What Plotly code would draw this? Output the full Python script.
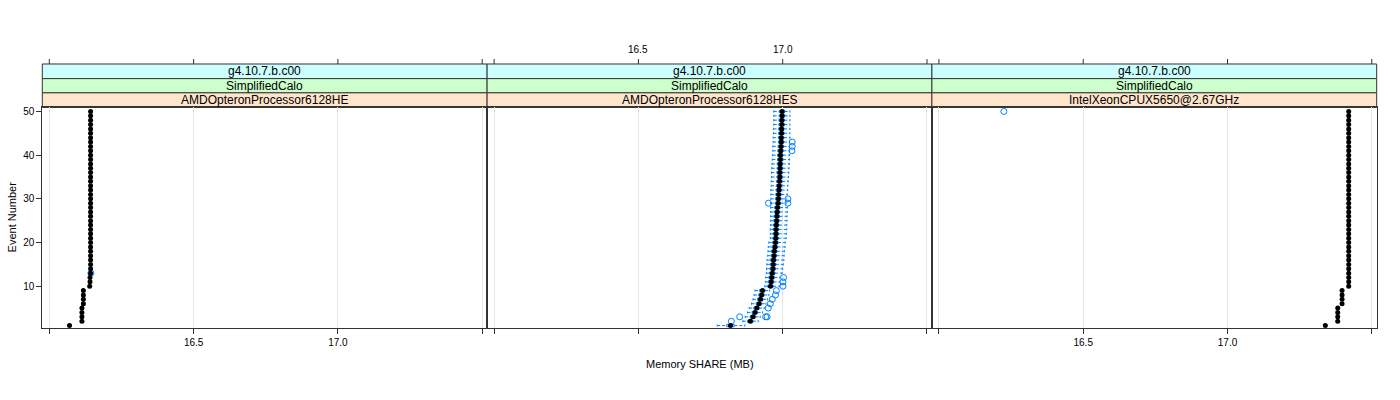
import plotly.graph_objects as go

# ---------------- data ----------------
events = list(range(1, 51))
panel_names = ["AMDOpteronProcessor6128HE", "AMDOpteronProcessor6128HES", "IntelXeonCPUX5650@2.67GHz"]
strip_top = "g4.10.7.b.c00"
strip_mid = "SimplifiedCalo"
x_tickvals = [16.0, 16.5, 17.0, 17.5]
x_ticktext = ["", "16.5", "17.0", ""]
y_tickvals = [10, 20, 30, 40, 50]
x_title = "Memory SHARE (MB)"
y_title = "Event Number"

# panel 1 : AMDOpteronProcessor6128HE (medians)
med_he = [16.070, 16.113, 16.113, 16.113, 16.113, 16.118, 16.118, 16.118, 16.118, 16.140,
          16.141, 16.141, 16.143, 16.143, 16.143, 16.143, 16.143, 16.143, 16.143, 16.143,
          16.143, 16.143, 16.143, 16.143, 16.143, 16.143, 16.143, 16.143, 16.143, 16.143,
          16.143, 16.143, 16.143, 16.143, 16.143, 16.143, 16.143, 16.143, 16.143, 16.143,
          16.143, 16.143, 16.143, 16.143, 16.143, 16.143, 16.143, 16.143, 16.143, 16.143]
out_he_ev = [13]
out_he_val = [16.144]

# panel 2 : AMDOpteronProcessor6128HES (box-and-whisker summaries)
med_hes = [16.819, 16.888, 16.897, 16.904, 16.910, 16.918, 16.923, 16.927, 16.930, 16.958,
           16.960, 16.962, 16.964, 16.966, 16.967, 16.968, 16.970, 16.971, 16.973, 16.975,
           16.976, 16.977, 16.977, 16.978, 16.979, 16.980, 16.981, 16.982, 16.984, 16.985,
           16.986, 16.987, 16.988, 16.989, 16.990, 16.990, 16.991, 16.991, 16.992, 16.992,
           16.993, 16.994, 16.995, 16.995, 16.996, 16.996, 16.997, 16.997, 16.998, 16.998]
q1_hes = [16.806, 16.878, 16.887, 16.894, 16.900, 16.908, 16.913, 16.917, 16.920, 16.948,
          16.950, 16.952, 16.954, 16.956, 16.957, 16.958, 16.960, 16.961, 16.963, 16.965,
          16.966, 16.967, 16.967, 16.968, 16.969, 16.970, 16.971, 16.972, 16.974, 16.975,
          16.976, 16.977, 16.978, 16.979, 16.980, 16.980, 16.981, 16.981, 16.982, 16.982,
          16.983, 16.984, 16.985, 16.985, 16.986, 16.986, 16.987, 16.987, 16.988, 16.988]
q3_hes = [16.832, 16.897, 16.906, 16.913, 16.919, 16.927, 16.932, 16.936, 16.939, 16.967,
          16.969, 16.971, 16.973, 16.975, 16.976, 16.977, 16.979, 16.980, 16.982, 16.984,
          16.985, 16.986, 16.986, 16.987, 16.988, 16.989, 16.990, 16.991, 16.993, 16.994,
          16.995, 16.996, 16.997, 16.998, 16.999, 16.999, 17.000, 17.000, 17.001, 17.001,
          17.002, 17.003, 17.004, 17.004, 17.005, 17.005, 17.006, 17.006, 17.007, 17.007]
wlo_hes = [16.773, 16.862, 16.870, 16.878, 16.884, 16.892, 16.897, 16.901, 16.904, 16.938,
           16.940, 16.941, 16.943, 16.944, 16.945, 16.946, 16.948, 16.949, 16.950, 16.952,
           16.957, 16.957, 16.957, 16.958, 16.958, 16.958, 16.958, 16.958, 16.958, 16.959,
           16.959, 16.959, 16.960, 16.960, 16.961, 16.961, 16.962, 16.963, 16.964, 16.965,
           16.966, 16.966, 16.967, 16.967, 16.968, 16.968, 16.969, 16.969, 16.969, 16.969]
whi_hes = [16.869, 16.915, 16.922, 16.930, 16.936, 16.942, 16.947, 16.952, 16.955, 16.988,
           16.988, 16.990, 16.998, 17.000, 17.002, 17.004, 17.005, 17.006, 17.008, 17.009,
           17.012, 17.013, 17.014, 17.014, 17.015, 17.015, 17.016, 17.016, 17.012, 17.012,
           17.016, 17.017, 17.018, 17.019, 17.020, 17.021, 17.022, 17.023, 17.024, 17.024,
           17.024, 17.024, 17.024, 17.025, 17.025, 17.025, 17.025, 17.025, 17.025, 17.025]
out_hes_ev = [2, 3, 3, 3, 5, 6, 7, 8, 9, 10, 11, 12, 29, 29, 30, 41, 42, 43]
out_hes_val = [16.822, 16.851, 16.941, 16.946, 16.950, 16.957, 16.964, 16.975, 16.978,
               17.001, 17.001, 17.003, 16.951, 17.018, 17.018, 17.032, 17.033, 17.033]

# panel 3 : IntelXeonCPUX5650@2.67GHz (medians)
med_x5650 = [17.339, 17.382, 17.382, 17.382, 17.382, 17.397, 17.397, 17.397, 17.397, 17.420,
             17.420, 17.420, 17.420, 17.420, 17.420, 17.420, 17.420, 17.420, 17.420, 17.420,
             17.420, 17.420, 17.420, 17.420, 17.420, 17.420, 17.420, 17.420, 17.420, 17.420,
             17.420, 17.420, 17.420, 17.420, 17.420, 17.420, 17.420, 17.420, 17.420, 17.420,
             17.420, 17.420, 17.420, 17.420, 17.420, 17.420, 17.420, 17.420, 17.420, 17.420]
out_x5650_ev = [50]
out_x5650_val = [16.225]

# ---------------- style ----------------
W, H = 1400, 400
BLUE = "#0080ff"
BORDER = "#333333"
FONT = "Liberation Sans, Arial, sans-serif"
x_range = [15.9757, 17.517]
y_range = [0.36, 50.91]
panel_px = [(42.3, 487.1), (487.1, 931.9), (931.9, 1376.7)]
panel_top_px, panel_bot_px = 106.0, 328.0
strip_px = [(62.3, 77.0, "#ccffff"), (77.0, 91.3, "#ccffcc"), (91.3, 106.0, "#ffe5cc")]
half_box = 0.25


def py(px):
    return 1 - px / H


fig = go.Figure()

def add_box_panel(xa, ya, med, q1, q3, wlo, whi):
    wx, wy, cx, cy, bx, by = [], [], [], [], [], []
    for e, m, a, b, lo, hi in zip(events, med, q1, q3, wlo, whi):
        wx += [lo, a, None, b, hi, None]
        wy += [e, e, None, e, e, None]
        cx += [lo, lo, None, hi, hi, None]
        cy += [e - half_box, e + half_box, None, e - half_box, e + half_box, None]
        bx += [a, b, b, a, a, None]
        by += [e - half_box, e - half_box, e + half_box, e + half_box, e - half_box, None]
    fig.add_trace(go.Scatter(x=wx, y=wy, mode="lines", xaxis=xa, yaxis=ya,
                             line=dict(color=BLUE, width=1, dash="3px,2px"),
                             hoverinfo="skip", showlegend=False))
    fig.add_trace(go.Scatter(x=cx, y=cy, mode="lines", xaxis=xa, yaxis=ya,
                             line=dict(color=BLUE, width=1),
                             hoverinfo="skip", showlegend=False))
    fig.add_trace(go.Scatter(x=bx, y=by, mode="lines", xaxis=xa, yaxis=ya,
                             line=dict(color=BLUE, width=1),
                             hoverinfo="skip", showlegend=False))

add_box_panel("x2", "y2", med_hes, q1_hes, q3_hes, wlo_hes, whi_hes)

meds = [med_he, med_hes, med_x5650]
outs = [(out_he_ev, out_he_val), (out_hes_ev, out_hes_val), (out_x5650_ev, out_x5650_val)]
for i in range(3):
    xa = "x" if i == 0 else f"x{i+1}"
    ya = "y" if i == 0 else f"y{i+1}"
    fig.add_trace(go.Scatter(x=outs[i][1], y=outs[i][0], mode="markers", xaxis=xa, yaxis=ya,
                             marker=dict(symbol="circle-open", color=BLUE, size=6,
                                         line=dict(width=1, color=BLUE)),
                             showlegend=False))
    fig.add_trace(go.Scatter(x=meds[i], y=events, mode="markers", xaxis=xa, yaxis=ya,
                             marker=dict(symbol="circle", color="black", size=5),
                             showlegend=False))

layout = dict(width=W, height=H, margin=dict(l=0, r=0, t=0, b=0),
              paper_bgcolor="white", plot_bgcolor="white",
              font=dict(family=FONT, size=10, color="black"), showlegend=False)

shapes, annotations = [], []
for i in range(3):
    k = "" if i == 0 else str(i + 1)
    x0, x1 = panel_px[i]
    layout[f"xaxis{k}"] = dict(
        domain=[x0 / W, x1 / W], range=x_range, anchor=f"y{k}",
        tickvals=x_tickvals, ticktext=(x_ticktext if i != 1 else ["", "", "", ""]),
        ticks="outside", ticklen=5, tickcolor=BORDER, tickwidth=1,
        showline=True, linecolor=BORDER, linewidth=1, mirror=True,
        showgrid=True, gridcolor="#e6e6e6", gridwidth=1, zeroline=False,
        tickfont=dict(size=10, family=FONT, color="black"), fixedrange=True)
    layout[f"yaxis{k}"] = dict(
        domain=[py(panel_bot_px), py(panel_top_px)], range=y_range, anchor=f"x{k}",
        tickvals=y_tickvals, ticks=("outside" if i == 0 else ""), ticklen=5,
        tickcolor=BORDER, showticklabels=(i == 0),
        showline=True, linecolor=BORDER, linewidth=1, mirror=True,
        showgrid=False, zeroline=False,
        tickfont=dict(size=10, family=FONT, color="black"), fixedrange=True)
    # strips
    texts = [strip_top, strip_mid, panel_names[i]]
    for (s0, s1, col), txt in zip(strip_px, texts):
        shapes.append(dict(type="rect", xref="paper", yref="paper",
                           x0=x0 / W, x1=x1 / W, y0=py(s1), y1=py(s0),
                           fillcolor=col, line=dict(color=BORDER, width=1), layer="below"))
        annotations.append(dict(text=txt, xref="paper", yref="paper",
                                x=(x0 + x1) / 2 / W, y=py((s0 + s1) / 2),
                                showarrow=False, xanchor="center", yanchor="middle",
                                font=dict(size=12, family=FONT, color="black")))
    # top ticks (above strips)
    xr = "x" if i == 0 else f"x{i+1}"
    for tv, tt in zip(x_tickvals, x_ticktext):
        shapes.append(dict(type="line", xref=xr, yref="paper", x0=tv, x1=tv,
                           y0=py(62.3), y1=py(57.3), line=dict(color=BORDER, width=1)))
        if i == 1 and tt:
            annotations.append(dict(text=tt, xref=xr, yref="paper", x=tv, y=py(47.3),
                                    showarrow=False, xanchor="center", yanchor="middle",
                                    font=dict(size=10, family=FONT, color="black")))

annotations.append(dict(text=x_title, xref="paper", yref="paper", x=700 / W, y=py(364),
                        showarrow=False, xanchor="center", yanchor="middle",
                        font=dict(size=11, family=FONT, color="black")))
annotations.append(dict(text=y_title, xref="paper", yref="paper", x=12 / W, y=py(216.5),
                        showarrow=False, xanchor="center", yanchor="middle", textangle=-90,
                        font=dict(size=11, family=FONT, color="black")))

layout["shapes"] = shapes
layout["annotations"] = annotations
fig.update_layout(**layout)
fig.write_html("out.html")
